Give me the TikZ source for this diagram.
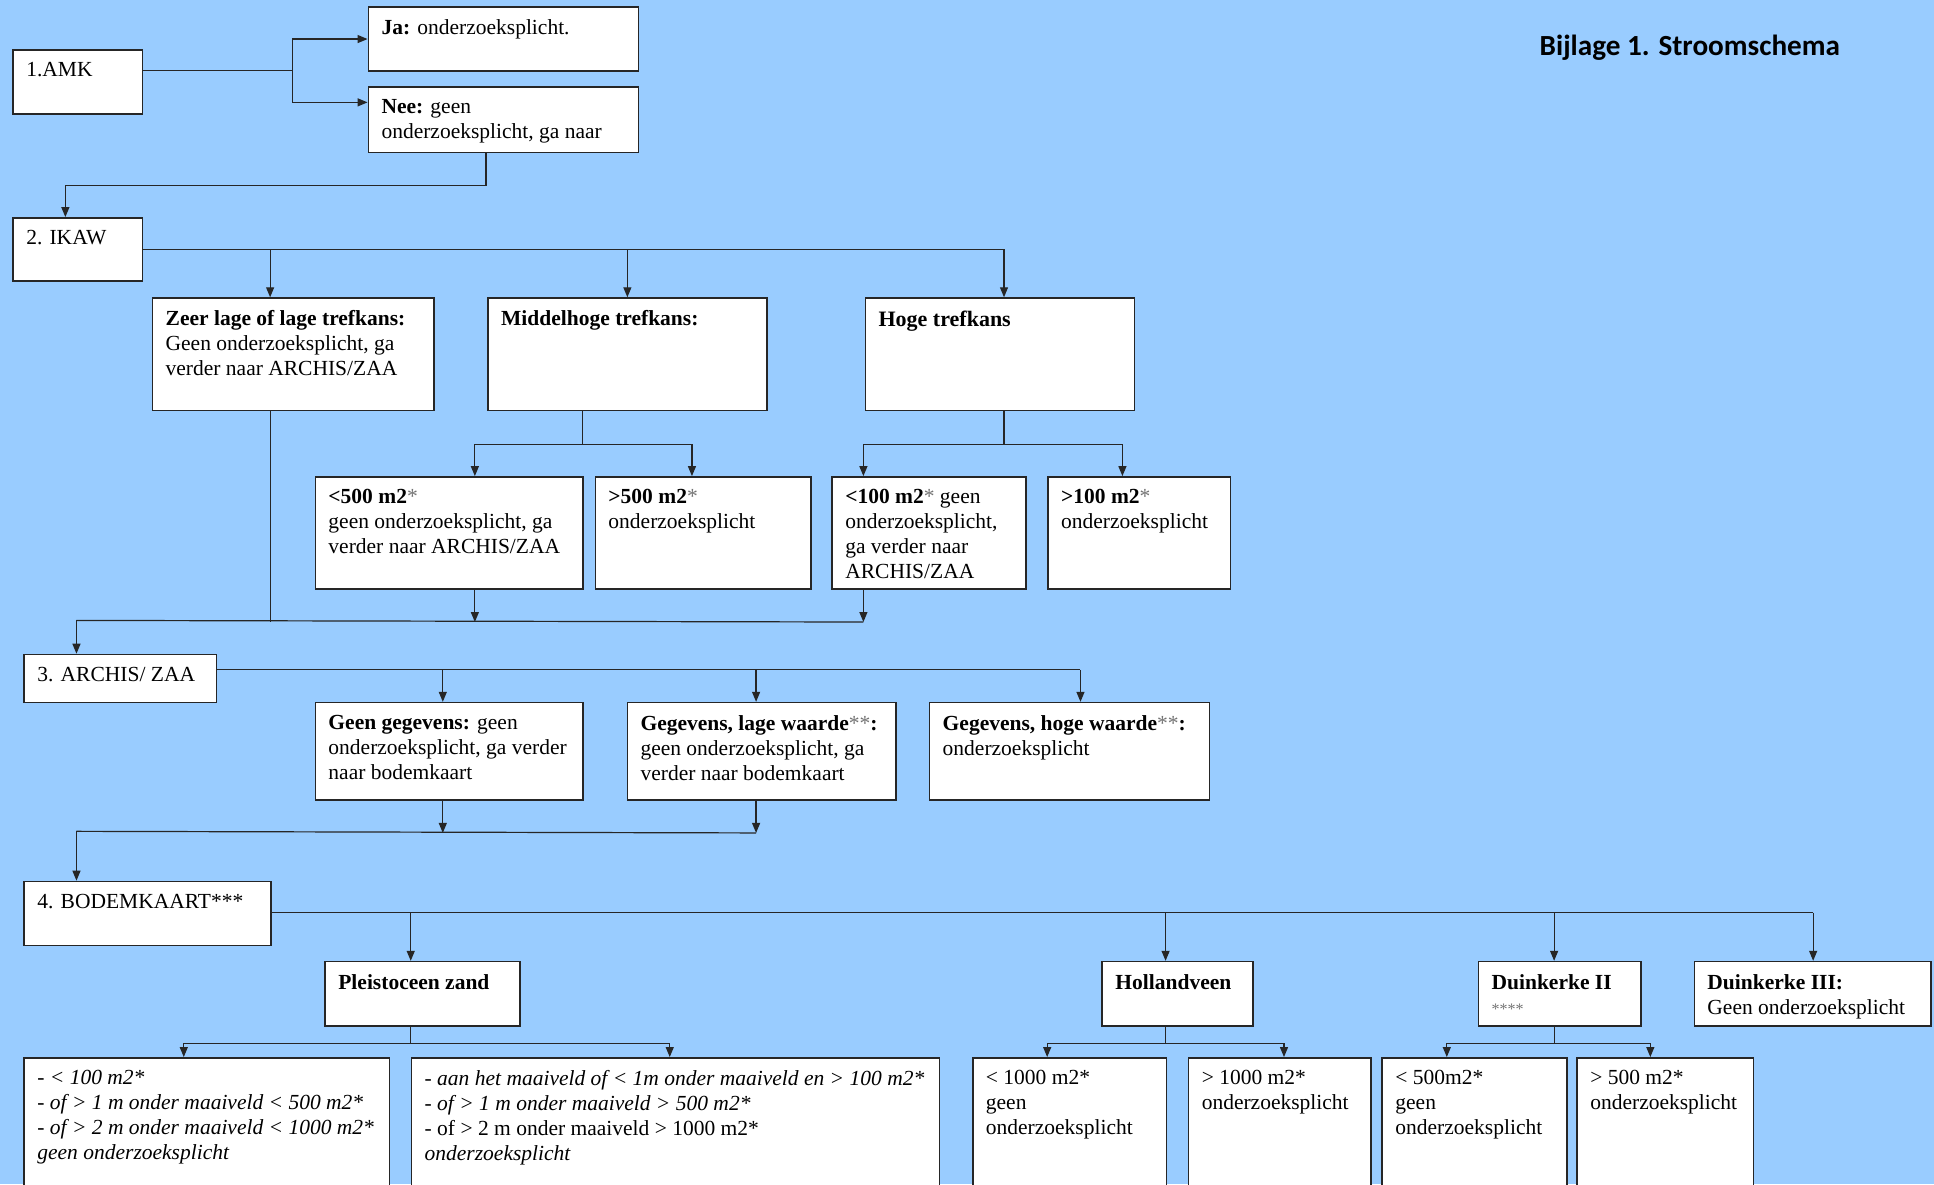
\documentclass[tikz,border=0pt]{standalone}
\usepackage{fontspec}
\setmainfont{Liberation Serif}
\newfontfamily\titlefont{Carlito}
\usetikzlibrary{calc,arrows.meta}
\definecolor{bg}{HTML}{99CCFF}
\definecolor{astc}{gray}{0.45}
\newcommand\gst{{\color{astc}\mdseries *}}
\tikzset{
 box/.style={draw=black!85, line width=0.8pt, fill=white, inner sep=0pt, anchor=north west},
 txt/.style={inner sep=0pt, anchor=north west, align=left, font=\fontsize{10.75}{12.5}\selectfont},
 conn/.style={draw=black!85, line width=0.6pt},
 arr/.style={conn, -{Triangle[length=5pt,width=4pt]}},
}
\newcommand\bx[6]{%
 \node[box, minimum width={(#4-#2)*0.6167pt}, minimum height={(#5-#3)*0.6167pt}] (#1) at (#2,#3) {};
 \node[txt] (#1t) at ($(#1.north west)+(11,10.5)$) {#6};
}
\begin{document}
\begin{tikzpicture}[x=0.6167pt, y=-0.6167pt]
\useasboundingbox (0,0) rectangle (1568,960);
\clip (0,0) rectangle (1568,960);
\fill[bg] (0,0) rectangle (1568,960);

\node[font=\titlefont\bfseries\fontsize{14.6}{17}\selectfont, anchor=west, inner sep=0pt] (title) at (1248,39) {Bijlage 1. Stroomschema};

% boxes
\bx{amk}{10}{40}{115}{92}{1.AMK}
\bx{ja}{298}{5}{517}{57}{\textbf{Ja:} onderzoeksplicht.}
\bx{nee}{298}{70}{517}{123}{\textbf{Nee:} geen\\onderzoeksplicht, ga naar}
\bx{ikaw}{10}{176}{115}{227}{2. IKAW}
\bx{zeer}{123}{241}{351}{332}{\textbf{Zeer lage of lage trefkans:}\\Geen onderzoeksplicht, ga\\verder naar ARCHIS/ZAA}
\bx{mid}{395}{241}{621}{332}{\textbf{Middelhoge trefkans:}}
\bx{hoge}{701}{241}{919}{332}{\fontsize{11}{13}\selectfont\textbf{Hoge trefkans}}
\bx{lta}{255}{386}{472}{477}{\textbf{<500 m2}\gst\\geen onderzoeksplicht, ga\\verder naar ARCHIS/ZAA}
\bx{gta}{482}{386}{657}{477}{\textbf{>500 m2}\gst\\onderzoeksplicht}
\bx{ltb}{674}{386}{831}{477}{\textbf{<100 m2}\gst{} geen\\onderzoeksplicht,\\ga verder naar\\ARCHIS/ZAA}
\bx{gtb}{849}{386}{997}{477}{\textbf{>100 m2}\gst\\onderzoeksplicht}
\bx{archis}{19}{530}{175}{569}{3. ARCHIS/ ZAA}
\bx{gg}{255}{569}{472}{648}{\textbf{Geen gegevens:} geen\\onderzoeksplicht, ga verder\\naar bodemkaart}
\bx{gl}{508}{569}{726}{648}{\textbf{Gegevens, lage waarde}\gst\gst\textbf{:}\\geen onderzoeksplicht, ga\\verder naar bodemkaart}
\bx{gh}{753}{569}{980}{648}{\textbf{Gegevens, hoge waarde}\gst\gst\textbf{:}\\onderzoeksplicht}
\bx{bodem}{19}{714}{219}{766}{4. BODEMKAART***}
\bx{pz}{263}{779}{421}{831}{\textbf{Pleistoceen zand}}
\bx{hv}{893}{779}{1015}{831}{\textbf{Hollandveen}}
\bx{d2}{1198}{779}{1330}{831}{\textbf{Duinkerke II}\\{\color{astc}\fontsize{8}{9}\selectfont ****}}
\bx{d3}{1373}{779}{1565}{831}{\textbf{Duinkerke III:}\\Geen onderzoeksplicht}
\bx{pa}{19}{857}{315}{975}{\textit{- < 100 m2*}\\\textit{- of > 1 m onder maaiveld < 500 m2*}\\\textit{- of > 2 m onder maaiveld < 1000 m2*}\\\textit{geen onderzoeksplicht}}
\bx{pb}{333}{857}{761}{975}{\textit{- aan het maaiveld of < 1m onder maaiveld en > 100 m2*}\\\textit{- of > 1 m onder maaiveld > 500 m2*}\\- of > 2 m onder maaiveld > 1000 m2*\\\textit{onderzoeksplicht}}
\bx{ha}{788}{857}{945}{975}{< 1000 m2*\\geen\\onderzoeksplicht}
\bx{hb}{963}{857}{1111}{975}{> 1000 m2*\\onderzoeksplicht}
\bx{da}{1120}{857}{1270}{975}{< 500m2*\\geen\\onderzoeksplicht}
\bx{db}{1278}{857}{1421}{975}{> 500 m2*\\onderzoeksplicht}

% AMK
\coordinate (s1) at ($(amk.north east)+(121,17)$);
\draw[conn] ($(amk.north east)+(0,17)$) -- (s1);
\draw[arr] (s1) |- (ja.west);
\draw[arr] (s1) |- ($(nee.north west)+(0,13)$);
% Nee -> IKAW
\draw[arr] ($(nee.south west)+(96,0)$) -- ++(0,26) -| ($(ikaw.north west)+(43,0)$);
% IKAW
\draw[conn] ($(ikaw.north east)+(0,26)$) -- ($(hoge.north west)+(113,-39)$);
\draw[arr] ($(zeer.north west)+(96,-39)$) -- ($(zeer.north west)+(96,0)$);
\draw[arr] ($(mid.north)+(0,-39)$) -- (mid.north);
\draw[arr] ($(hoge.north west)+(113,-39)$) -- ($(hoge.north west)+(113,0)$);
% Middelhoge
\coordinate (m1) at ($(mid.south west)+(77,27)$);
\draw[conn] ($(mid.south west)+(77,0)$) -- (m1);
\draw[arr] (m1) -| ($(lta.north west)+(130,0)$);
\draw[arr] (m1) -| ($(gta.north west)+(79,0)$);
% Hoge
\coordinate (h1) at ($(hoge.south west)+(113,27)$);
\draw[conn] ($(hoge.south west)+(113,0)$) -- (h1);
\draw[arr] (h1) -| ($(ltb.north west)+(26,0)$);
\draw[arr] (h1) -| ($(gtb.north west)+(61,0)$);
% to ARCHIS
\coordinate (j3) at ($(archis.north west)+(43,-27)$);
\draw[conn] (j3) -- ($(ltb.south west)+(26,26)$);
\draw[conn] ($(zeer.south west)+(96,0)$) -- ($(zeer.south west)+(96,171)$);
\draw[arr] ($(lta.south west)+(130,0)$) -- ($(lta.south west)+(130,26)$);
\draw[arr] ($(ltb.south west)+(26,0)$) -- ($(ltb.south west)+(26,26)$);
\draw[arr] (j3) -- ($(archis.north west)+(43,0)$);
% ARCHIS
\draw[conn] ($(archis.north east)+(0,13)$) -- ($(gh.north west)+(123,-26)$);
\draw[arr] ($(gg.north west)+(104,-26)$) -- ($(gg.north west)+(104,0)$);
\draw[arr] ($(gl.north west)+(105,-26)$) -- ($(gl.north west)+(105,0)$);
\draw[arr] ($(gh.north west)+(123,-26)$) -- ($(gh.north west)+(123,0)$);
% to BODEMKAART
\coordinate (j4) at ($(bodem.north west)+(43,-40)$);
\draw[conn] (j4) -- ($(gl.south west)+(105,26)$);
\draw[arr] ($(gg.south west)+(104,0)$) -- ($(gg.south west)+(104,26)$);
\draw[arr] ($(gl.south west)+(105,0)$) -- ($(gl.south west)+(105,26)$);
\draw[arr] (j4) -- ($(bodem.north west)+(43,0)$);
% BODEMKAART
\draw[conn] ($(bodem.north east)+(0,26)$) -- ($(d3.north west)+(97,-39)$);
\draw[arr] ($(pz.north west)+(70,-39)$) -- ($(pz.north west)+(70,0)$);
\draw[arr] ($(hv.north west)+(52,-39)$) -- ($(hv.north west)+(52,0)$);
\draw[arr] ($(d2.north west)+(62,-39)$) -- ($(d2.north west)+(62,0)$);
\draw[arr] ($(d3.north west)+(97,-39)$) -- ($(d3.north west)+(97,0)$);
% Pleistoceen
\coordinate (p1) at ($(pz.south west)+(70,14)$);
\draw[conn] ($(pz.south west)+(70,0)$) -- (p1);
\draw[arr] (p1) -| ($(pa.north west)+(130,0)$);
\draw[arr] (p1) -| ($(pb.north west)+(210,0)$);
% Hollandveen
\coordinate (hv1) at ($(hv.south west)+(52,14)$);
\draw[conn] ($(hv.south west)+(52,0)$) -- (hv1);
\draw[arr] (hv1) -| ($(ha.north west)+(61,0)$);
\draw[arr] (hv1) -| ($(hb.north west)+(78,0)$);
% Duinkerke II
\coordinate (dk1) at ($(d2.south west)+(62,14)$);
\draw[conn] ($(d2.south west)+(62,0)$) -- (dk1);
\draw[arr] (dk1) -| ($(da.north west)+(53,0)$);
\draw[arr] (dk1) -| ($(db.north west)+(60,0)$);
\end{tikzpicture}
\end{document}
